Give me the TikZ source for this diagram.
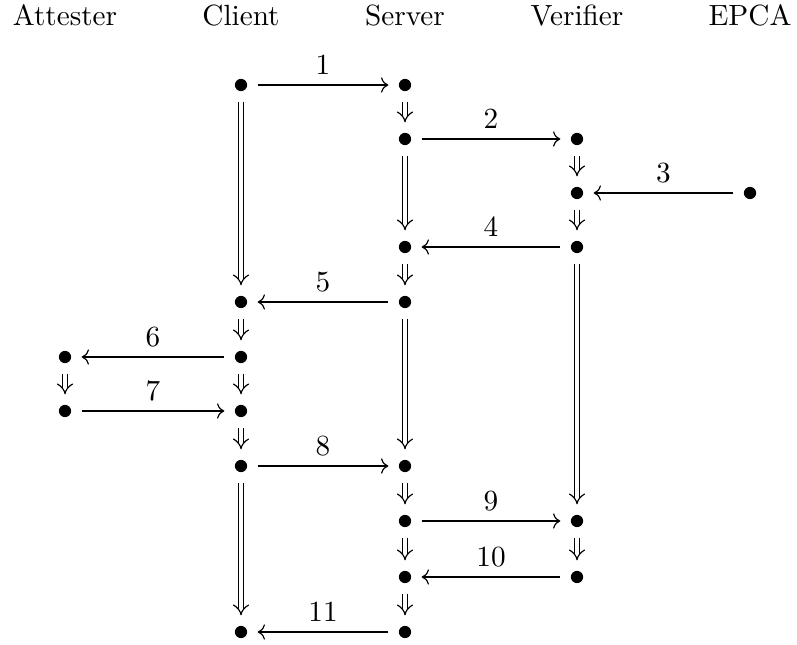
\documentclass[tikz,border=0pt]{standalone}
\usetikzlibrary{arrows.meta,cd}
\begin{document}
\begin{tikzpicture}[x=0.342pt,y=-0.342pt,
  dot/.style={circle,fill,inner sep=0pt,minimum size=4.2pt,outer sep=3.6pt},
  hdr/.style={anchor=base,inner sep=0pt},
  msg/.style={-{tikzcd to},line width=0.4pt},
  dbl/.style={double,double equal sign distance,line width=0.4pt,-{tikzcd implies}},
  lbl/.style={above,midway}]
\useasboundingbox (0,0) rectangle (797,645);
% headers
\node[hdr] (hA) at (65,26) {Attester};
\node[hdr] (hC) at (241,26) {Client};
\node[hdr] (hS) at (405,26) {Server};
\node[hdr] (hV) at (577,26) {Verifier};
\node[hdr] (hE) at (750,26) {EPCA};
% dots
\node[dot] (C1) at (241,85) {};
\node[dot] (S1) at (405,85) {};
\node[dot] (S2) at (405,139) {};
\node[dot] (V2) at (577,139) {};
\node[dot] (V3) at (577,193) {};
\node[dot] (E3) at (750,193) {};
\node[dot] (S4) at (405,247) {};
\node[dot] (V4) at (577,247) {};
\node[dot] (C5) at (241,302) {};
\node[dot] (S5) at (405,302) {};
\node[dot] (A6) at (65,357) {};
\node[dot] (C6) at (241,357) {};
\node[dot] (A7) at (65,411) {};
\node[dot] (C7) at (241,411) {};
\node[dot] (C8) at (241,466) {};
\node[dot] (S8) at (405,466) {};
\node[dot] (S9) at (405,521) {};
\node[dot] (V9) at (577,521) {};
\node[dot] (S10) at (405,577) {};
\node[dot] (V10) at (577,577) {};
\node[dot] (C11) at (241,632) {};
\node[dot] (S11) at (405,632) {};
% messages
\draw[msg] (C1) -- node[lbl] {1} (S1);
\draw[msg] (S2) -- node[lbl] {2} (V2);
\draw[msg] (E3) -- node[lbl] {3} (V3);
\draw[msg] (V4) -- node[lbl] {4} (S4);
\draw[msg] (S5) -- node[lbl] {5} (C5);
\draw[msg] (C6) -- node[lbl] {6} (A6);
\draw[msg] (A7) -- node[lbl] {7} (C7);
\draw[msg] (C8) -- node[lbl] {8} (S8);
\draw[msg] (S9) -- node[lbl] {9} (V9);
\draw[msg] (V10) -- node[lbl] {10} (S10);
\draw[msg] (S11) -- node[lbl] {11} (C11);
% sequencing
\draw[dbl] (C1) -- (C5);
\draw[dbl] (C5) -- (C6);
\draw[dbl] (C6) -- (C7);
\draw[dbl] (C7) -- (C8);
\draw[dbl] (C8) -- (C11);
\draw[dbl] (S1) -- (S2);
\draw[dbl] (S2) -- (S4);
\draw[dbl] (S4) -- (S5);
\draw[dbl] (S5) -- (S8);
\draw[dbl] (S8) -- (S9);
\draw[dbl] (S9) -- (S10);
\draw[dbl] (S10) -- (S11);
\draw[dbl] (V2) -- (V3);
\draw[dbl] (V3) -- (V4);
\draw[dbl] (V4) -- (V9);
\draw[dbl] (V9) -- (V10);
\draw[dbl] (A6) -- (A7);
\end{tikzpicture}
\end{document}
